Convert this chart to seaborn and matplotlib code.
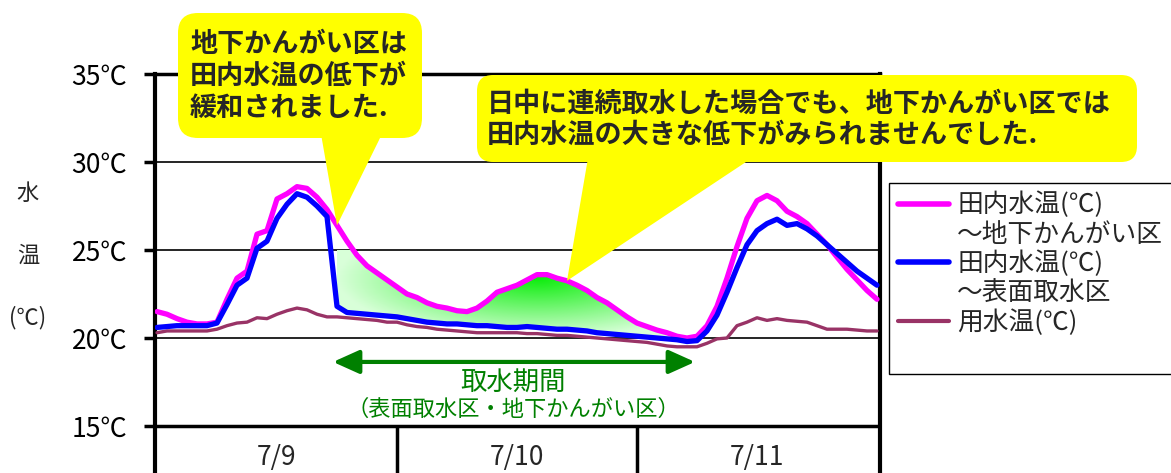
import numpy as np
import matplotlib
matplotlib.use('Agg')
import matplotlib.pyplot as plt
import seaborn as sns
import pandas as pd
from matplotlib.lines import Line2D
from matplotlib.patches import FancyBboxPatch, Polygon, PathPatch

# hourly readings, 7/9 0:00 -> 7/12 0:00
hours = list(range(73))
temp_chika = [21.5, 21.35, 21.1, 20.9, 20.8, 20.8, 20.9, 22.2, 23.4, 23.8,
              25.9, 26.1, 27.9, 28.2, 28.6, 28.5, 28.0, 27.3, 26.4, 25.5,
              24.7, 24.1, 23.7, 23.3, 22.9, 22.5, 22.3, 22.0, 21.8, 21.7,
              21.55, 21.5, 21.7, 22.1, 22.6, 22.8, 23.0, 23.3, 23.6, 23.6,
              23.4, 23.25, 23.0, 22.7, 22.3, 22.0, 21.6, 21.2, 20.85, 20.65,
              20.45, 20.3, 20.1, 20.0, 20.1, 20.7, 21.8, 23.4, 25.2, 26.8,
              27.8, 28.1, 27.8, 27.2, 26.9, 26.5, 25.9, 25.3, 24.6, 23.9,
              23.3, 22.7, 22.2]
temp_hyomen = [20.6, 20.65, 20.7, 20.7, 20.7, 20.7, 20.85, 21.9, 23.0, 23.4,
               25.1, 25.5, 26.8, 27.6, 28.2, 28.0, 27.5, 26.9, 21.8, 21.45,
               21.4, 21.35, 21.3, 21.25, 21.2, 21.1, 21.0, 20.9, 20.85, 20.8,
               20.8, 20.75, 20.7, 20.7, 20.65, 20.6, 20.6, 20.65, 20.6, 20.55,
               20.5, 20.5, 20.45, 20.4, 20.3, 20.25, 20.2, 20.15, 20.1, 20.05,
               20.0, 19.95, 19.9, 19.8, 19.85, 20.4, 21.3, 22.6, 24.0, 25.3,
               26.1, 26.5, 26.75, 26.4, 26.5, 26.2, 25.8, 25.3, 24.8, 24.3,
               23.8, 23.4, 23.0]
temp_yosui = [20.3, 20.4, 20.4, 20.4, 20.4, 20.4, 20.5, 20.7, 20.85, 20.9,
              21.15, 21.1, 21.35, 21.55, 21.7, 21.6, 21.35, 21.2, 21.2, 21.15,
              21.1, 21.05, 21.0, 20.9, 20.9, 20.75, 20.65, 20.6, 20.5, 20.45,
              20.4, 20.35, 20.3, 20.3, 20.3, 20.3, 20.3, 20.25, 20.25, 20.2,
              20.15, 20.15, 20.1, 20.05, 20.0, 19.95, 19.9, 19.85, 19.8, 19.75,
              19.65, 19.55, 19.5, 19.5, 19.5, 19.7, 19.95, 20.0, 20.7, 20.9,
              21.15, 21.0, 21.1, 21.0, 20.95, 20.9, 20.7, 20.5, 20.5, 20.5,
              20.45, 20.4, 20.4]

days = ['7/9', '7/10', '7/11']
yticks = [15, 20, 25, 30, 35]
intake_start, intake_end = 18, 54   # 取水期間 (hours)
note1 = '地下かんがい区は\n田内水温の低下が\n緩和されました.'
note2 = '日中に連続取水した場合でも、地下かんがい区では\n田内水温の大きな低下がみられませんでした.'

sns.set_theme(style='white')
plt.rcParams['font.family'] = ['Noto Sans CJK JP', 'DejaVu Sans']

W, H = 1171, 473
fig = plt.figure(figsize=(W / 100, H / 100), dpi=100)
ax = fig.add_axes([155 / W, 0, 725 / W, 399 / H])

df = pd.DataFrame({'hour': hours, 'chika': temp_chika,
                   'hyomen': temp_hyomen, 'yosui': temp_yosui})

# green shaded gap during the intake period
x = df['hour'].to_numpy()
mask = (x >= intake_start) & (x <= intake_end)
gap = ax.fill_between(x, df['hyomen'], df['chika'], where=mask,
                      color='none', lw=0)
clip = PathPatch(gap.get_paths()[0], transform=ax.transData,
                 facecolor='none', edgecolor='none')
ax.add_patch(clip)
gx, gy = np.meshgrid(np.linspace(intake_start, intake_end, 400),
                     np.linspace(19.5, 25, 200))
d = np.clip(np.sqrt(((gx - 38) / 20) ** 2 + ((gy - 23.4) / 3.4) ** 2), 0, 1)
bright = np.array([0.05, 0.93, 0.05])
pale = np.array([0.85, 1.0, 0.85])
rgb = bright[None, None, :] * (1 - d[..., None]) + pale[None, None, :] * d[..., None]
im = ax.imshow(rgb, extent=[intake_start, intake_end, 19.5, 25], origin='lower',
               aspect='auto', zorder=2, interpolation='bilinear')
im.set_clip_path(clip)

sns.lineplot(data=df, x='hour', y='yosui', ax=ax, color='#993366', lw=2.4, zorder=3)
sns.lineplot(data=df, x='hour', y='chika', ax=ax, color='#ff00ff', lw=3.8, zorder=4)
sns.lineplot(data=df, x='hour', y='hyomen', ax=ax, color='#0000ff', lw=3.8, zorder=5)

ax.set_xlim(-0.2, 72.3)
ax.set_ylim(15 - 47 / 17.6, 35)
ax.set_xlabel('')
ax.set_ylabel('')
ax.set_xticks([])
ax.set_yticks(yticks)
ax.set_yticklabels([f'{v}℃' for v in yticks])
ax.tick_params(axis='y', left=True, length=8, width=2.5, pad=12,
               labelsize=19, colors='black')
for v in yticks[1:-1]:
    ax.axhline(v, color='black', lw=1.2, zorder=1)
ax.axhline(15, color='black', lw=2.5, zorder=6)
for dd in (24, 48):
    ax.vlines(dd, ax.get_ylim()[0], 15, color='black', lw=2.5, zorder=6)
for i, lab in enumerate(days):
    ax.text(12 + 24 * i, 13.2, lab, ha='center', va='center', fontsize=19)
ax.spines['bottom'].set_visible(False)
for s in ('left', 'right'):
    ax.spines[s].set_linewidth(3)
    ax.spines[s].set_color('black')
ax.spines['top'].set_linewidth(2.5)
ax.spines['top'].set_color('black')

# intake period arrow
ax.annotate('', xy=(53.8, 18.64), xytext=(17.6, 18.64),
            arrowprops=dict(arrowstyle='<|-|>,head_length=0.4,head_width=0.18',
                            color='#008000', lw=3, mutation_scale=40,
                            shrinkA=0, shrinkB=0))
ax.text(35.6, 17.5, '取水期間', ha='center', va='center', fontsize=19, color='#008000')
ax.text(35.6, 15.97, '（表面取水区・地下かんがい区）', ha='center', va='center',
        fontsize=16, color='#008000')

# y label
for txt, yy in (('水', 193), ('温', 255), ('(℃)', 318)):
    fig.text(28 / W, 1 - yy / H, txt, ha='center', va='center', fontsize=16)

# legend
handles = [Line2D([], [], color='#ff00ff', lw=4), Line2D([], [], color='none'),
           Line2D([], [], color='#0000ff', lw=4), Line2D([], [], color='none'),
           Line2D([], [], color='#993366', lw=3), Line2D([], [], color='none')]
labels = ['田内水温(℃)', '～地下かんがい区', '田内水温(℃)', '～表面取水区', '用水温(℃)', ' ']
leg = fig.legend(handles, labels, loc='upper left', bbox_to_anchor=(889 / W, 1 - 183 / H),
                 fontsize=18.5, frameon=True, fancybox=False, framealpha=1,
                 edgecolor='black', handlelength=2.0, handletextpad=0.3,
                 labelspacing=0.12, borderpad=0.35, borderaxespad=0)
leg.get_frame().set_linewidth(1)

# callouts on a pixel overlay
ov = fig.add_axes([0, 0, 1, 1], zorder=10)
ov.set_xlim(0, W)
ov.set_ylim(H, 0)
ov.axis('off')
fig.canvas.draw()


def to_px(px, py):
    return ov.transData.inverted().transform(ax.transData.transform((px, py)))


tip1 = to_px(18, temp_chika[18])
tip2 = to_px(41, temp_chika[41])
ov.add_patch(FancyBboxPatch((178, 13), 244, 125, boxstyle='round,pad=0,rounding_size=20',
                            fc='#ffff00', ec='none'))
ov.add_patch(Polygon([(321, 134), (382, 134), tuple(tip1)], closed=True, fc='#ffff00', ec='none'))
ov.add_patch(FancyBboxPatch((477, 75), 660, 87, boxstyle='round,pad=0,rounding_size=16',
                            fc='#ffff00', ec='none'))
ov.add_patch(Polygon([(588, 158), (752, 158), tuple(tip2)], closed=True, fc='#ffff00', ec='none'))
for i, line in enumerate(note1.split('\n')):
    ov.text(190, 44 + 32 * i, line, ha='left', va='center', fontsize=19.5, fontweight='bold')
for i, line in enumerate(note2.split('\n')):
    ov.text(487, 104 + 31 * i, line, ha='left', va='center', fontsize=19.5, fontweight='bold')

fig.savefig('out.png', dpi=100)
